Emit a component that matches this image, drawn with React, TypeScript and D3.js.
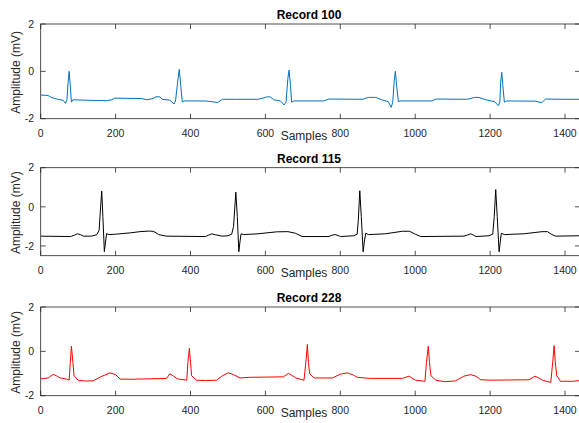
import React from "react";
import * as d3 from "d3";

// ---- data (sample index, amplitude mV) ----
const record100: [number, number][] = [
  [0,-1.0],[20,-1.02],[28,-1.1],[45,-1.18],[60,-1.22],[66,-1.35],[70,-1.2],[73,-0.5],[76,0.0],[79,-0.6],[82,-1.3],[86,-1.2],
  [120,-1.22],[175,-1.24],[190,-1.2],[198,-1.13],[230,-1.14],[270,-1.15],[283,-1.2],[300,-1.15],[308,-1.07],[318,-1.08],[325,-1.18],
  [345,-1.22],[356,-1.38],[360,-1.25],[366,-0.4],[370,0.08],[374,-0.6],[378,-1.3],[383,-1.25],[440,-1.25],[465,-1.3],[472,-1.32],
  [485,-1.18],[520,-1.18],[580,-1.18],[596,-1.12],[606,-1.07],[614,-1.09],[622,-1.2],[640,-1.25],[650,-1.42],[655,-1.3],[660,-0.3],
  [663,0.05],[667,-0.6],[670,-1.3],[676,-1.25],[755,-1.25],[770,-1.17],[860,-1.18],[875,-1.1],[895,-1.1],[910,-1.2],[928,-1.28],
  [936,-1.52],[940,-1.3],[944,-0.4],[947,0.0],[951,-0.7],[955,-1.28],[960,-1.25],[1045,-1.25],[1055,-1.17],[1140,-1.18],[1158,-1.1],
  [1170,-1.1],[1188,-1.2],[1212,-1.28],[1222,-1.45],[1226,-1.3],[1228,-0.5],[1231,-0.04],[1234,-0.6],[1238,-1.3],[1244,-1.25],
  [1320,-1.26],[1338,-1.32],[1348,-1.17],[1400,-1.18],[1440,-1.18]
];

const record115: [number, number][] = [
  [0,-1.5],[80,-1.52],[90,-1.45],[98,-1.38],[106,-1.42],[114,-1.5],[136,-1.5],[150,-1.42],[156,-1.2],[160,0.0],[163,0.8],[166,-0.5],
  [170,-2.3],[173,-1.8],[176,-1.37],[182,-1.42],[200,-1.4],[240,-1.33],[265,-1.27],[290,-1.24],[302,-1.26],[315,-1.42],[335,-1.5],
  [440,-1.52],[448,-1.45],[457,-1.38],[466,-1.43],[485,-1.5],[500,-1.48],[510,-1.4],[515,-1.0],[521,0.75],[525,-0.5],[529,-2.3],
  [532,-1.8],[535,-1.38],[542,-1.42],[580,-1.38],[630,-1.28],[660,-1.27],[680,-1.35],[698,-1.52],[770,-1.52],[778,-1.45],[786,-1.42],
  [794,-1.47],[801,-1.52],[836,-1.48],[845,-1.4],[848,-0.7],[852,0.82],[856,-0.5],[861,-2.3],[864,-1.8],[868,-1.35],[875,-1.42],
  [920,-1.38],[966,-1.25],[985,-1.25],[1000,-1.4],[1015,-1.52],[1130,-1.5],[1140,-1.44],[1148,-1.38],[1156,-1.45],[1162,-1.52],
  [1197,-1.48],[1207,-1.4],[1211,-0.5],[1215,0.88],[1219,-0.5],[1224,-2.3],[1227,-1.8],[1230,-1.35],[1238,-1.42],[1290,-1.38],
  [1339,-1.27],[1353,-1.27],[1365,-1.42],[1375,-1.5],[1440,-1.48]
];

const record228: [number, number][] = [
  [0,-1.24],[20,-1.2],[33,-1.04],[42,-1.1],[52,-1.2],[69,-1.25],[76,-1.3],[79,-0.5],[82,0.23],[86,-0.5],[89,-1.1],[100,-1.3],
  [120,-1.34],[140,-1.33],[160,-1.15],[185,-0.97],[200,-1.05],[212,-1.25],[240,-1.26],[336,-1.22],[345,-1.01],[355,-1.12],[365,-1.24],
  [390,-1.3],[393,-0.5],[397,0.14],[400,-0.5],[403,-1.1],[416,-1.3],[440,-1.32],[470,-1.3],[485,-1.1],[501,-0.97],[515,-1.05],
  [532,-1.2],[560,-1.17],[648,-1.15],[661,-1.0],[668,-1.05],[681,-1.2],[703,-1.3],[708,-0.5],[712,0.31],[715,-0.5],[718,-1.0],
  [730,-1.2],[779,-1.2],[800,-1.03],[819,-0.97],[835,-1.07],[845,-1.17],[880,-1.22],[966,-1.22],[983,-1.12],[1001,-1.3],[1026,-1.35],
  [1030,-0.5],[1035,0.23],[1038,-0.5],[1042,-1.1],[1055,-1.3],[1080,-1.37],[1108,-1.33],[1130,-1.12],[1148,-1.05],[1162,-1.12],
  [1175,-1.28],[1200,-1.3],[1304,-1.28],[1320,-1.12],[1330,-1.2],[1340,-1.3],[1362,-1.4],[1367,-0.5],[1371,0.26],[1374,-0.5],
  [1378,-1.1],[1388,-1.35],[1420,-1.35],[1440,-1.32]
];

const titles = ["Record 100", "Record 115", "Record 228"];
const xTicks = [0, 200, 400, 600, 800, 1000, 1200, 1400];
const yTicks = [-2, 0, 2];
const xDomain: [number, number] = [0, 1440];
const yDomains: [number, number][] = [[-2, 2], [-2.5, 2], [-2, 2]];

// ---- layout ----
const W = 579, H = 423;
const X0 = 40.7, X1 = 580;
const panelTops = [24, 167.7, 307];
const panelBottoms = [118.7, 255.7, 395.7];
const colors = ["#0072BD", "#000000", "#FF0000"];
const FONT = "'Liberation Sans', Arial, Helvetica, sans-serif";
const AX = "#262626";
const TL = 5;

const series = [record100, record115, record228];

function Panel({ i }: { i: number }) {
  const top = panelTops[i], bottom = panelBottoms[i];
  const x = d3.scaleLinear().domain(xDomain).range([X0, X1]);
  const y = d3.scaleLinear().domain(yDomains[i]).range([bottom, top]);
  const line = d3.line<[number, number]>().x(d => x(d[0])).y(d => y(d[1]));
  const clipId = `clip${i}`;
  return (
    <g>
      <defs>
        <clipPath id={clipId}>
          <rect x={X0} y={top} width={X1 - X0} height={bottom - top} />
        </clipPath>
      </defs>
      <path d={line(series[i]) || ""} fill="none" stroke={colors[i]} strokeWidth={1} clipPath={`url(#${clipId})`} strokeLinejoin="round" />
      {/* box */}
      <rect x={X0} y={top} width={X1 - X0} height={bottom - top} fill="none" stroke={AX} strokeWidth={0.8} />
      {xTicks.map(t => (
        <g key={"x" + t}>
          <line x1={x(t)} x2={x(t)} y1={bottom} y2={bottom - TL} stroke={AX} strokeWidth={0.8} />
          <line x1={x(t)} x2={x(t)} y1={top} y2={top + TL} stroke={AX} strokeWidth={0.8} />
          <text x={x(t)} y={bottom + 18.5} textAnchor="middle" fontSize={10.5} fill={AX} fontFamily={FONT}>{t}</text>
        </g>
      ))}
      {yTicks.map(t => (
        <g key={"y" + t}>
          <line x1={X0} x2={X0 + TL} y1={y(t)} y2={y(t)} stroke={AX} strokeWidth={0.8} />
          <line x1={X1} x2={X1 - TL} y1={y(t)} y2={y(t)} stroke={AX} strokeWidth={0.8} />
          <text x={34} y={y(t) + 3.7} textAnchor="end" fontSize={10.5} fill={AX} fontFamily={FONT}>{t}</text>
        </g>
      ))}
      <text x={309} y={top - 5} textAnchor="middle" fontSize={12} fontWeight="bold" fill="#000" fontFamily={FONT}>{titles[i]}</text>
      <text x={304} y={bottom + 21.5} textAnchor="middle" fontSize={12} fill={AX} fontFamily={FONT}>Samples</text>
      <text transform={`translate(19.5, ${(top + bottom) / 2 + 1}) rotate(-90)`} textAnchor="middle" fontSize={12} fill={AX} fontFamily={FONT}>Amplitude (mV)</text>
    </g>
  );
}

export default function App() {
  return (
    <svg width={W} height={H} style={{ position: "absolute", left: 0, top: 0, background: "#fff" }}>
      <rect x={0} y={0} width={W} height={H} fill="#fff" />
      {[0, 1, 2].map(i => <Panel key={i} i={i} />)}
    </svg>
  );
}
